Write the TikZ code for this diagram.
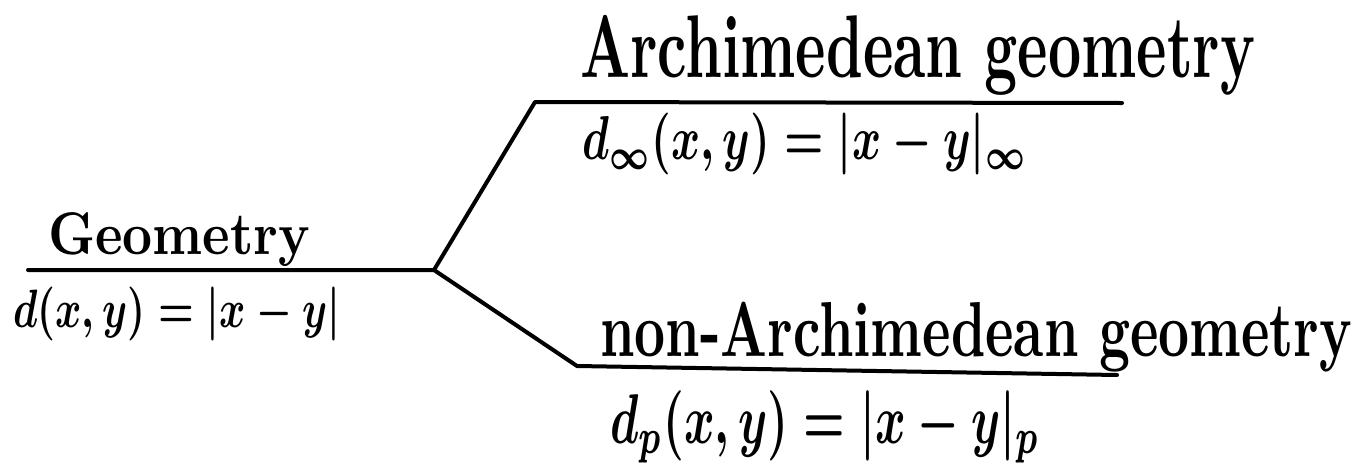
\documentclass[tikz,border=0pt]{standalone}
\usepackage{graphicx}
\tikzset{
  stroke/.style={line width=4pt, line cap=round, line join=round},
  lbl/.style={inner sep=0pt, anchor=north west, font=\bfseries\boldmath},
}
\begin{document}
\begin{tikzpicture}[x=1pt,y=-1pt]
\useasboundingbox (0,0) rectangle (1357,464);
% line points
\coordinate (l0) at (28,270);
\coordinate (j) at (434,270);
\coordinate (t0) at (535,102);
\coordinate (t1) at (1122,103);
\coordinate (b0) at (577,366);
\coordinate (b1) at (1117,375);
\draw[stroke] (l0) -- (j) -- (t0) -- (t1);
\draw[stroke] (j) -- (b0) -- (b1);
% texts
\node[lbl] (geo) at (48,212) {\resizebox*{262pt}{54pt}{Geometry}};
\node[lbl] (dgeo) at (13,287) {\resizebox*{327pt}{54pt}{$d(x,y)=|x-y|$}};
\node[lbl] (arch) at (580,15) {\resizebox*{675pt}{80pt}{Archimedean geometry}};
\node[lbl] (darch) at (582,113) {\resizebox*{445pt}{62pt}{$d_\infty(x,y)=|x-y|_\infty$}};
\node[lbl] (narch) at (600,302) {\resizebox*{752pt}{70pt}{non-Archimedean geometry}};
\node[lbl] (dnarch) at (610,390) {\resizebox*{430pt}{73pt}{$d_p(x,y)=|x-y|_p$}};
\end{tikzpicture}
\end{document}
